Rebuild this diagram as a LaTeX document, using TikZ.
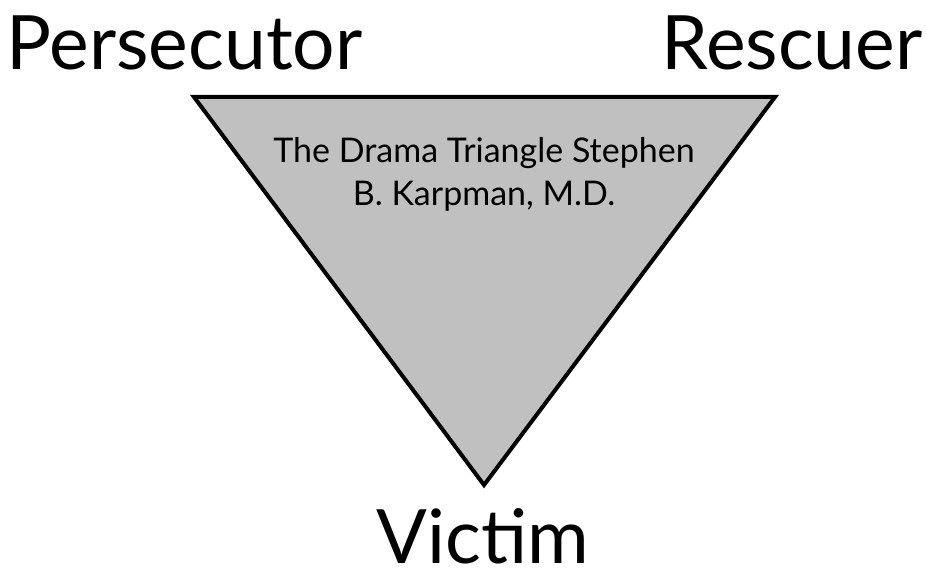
\documentclass[tikz,border=0pt]{standalone}
\usepackage{fontspec}
\setmainfont{Lato}
\definecolor{trifill}{HTML}{C0C0C0}
\begin{document}
\begin{tikzpicture}[x=1pt,y=-1pt,
  role/.style={anchor=base,inner sep=0pt,font=\fontsize{75}{80}\selectfont},
  title/.style={align=center,inner sep=0pt,font=\fontsize{34}{43}\selectfont}]
\useasboundingbox (0,0) rectangle (927,569);
\coordinate (pv) at (194,97);
\coordinate (rv) at (775,97);
\coordinate (vv) at (484,485);
\draw[line width=4pt,fill=trifill,line join=miter] (pv) -- (rv) -- (vv) -- cycle;
\node[role] (pers) at (184.5,70) {Persecutor};
\node[role] (resc) at (792,70) {Rescuer};
\node[role] (vict) at (483,563) {Victim};
\node[title,anchor=base] (ttl) at (484,206) {The Drama Triangle Stephen\\B. Karpman, M.D.};
\end{tikzpicture}
\end{document}
